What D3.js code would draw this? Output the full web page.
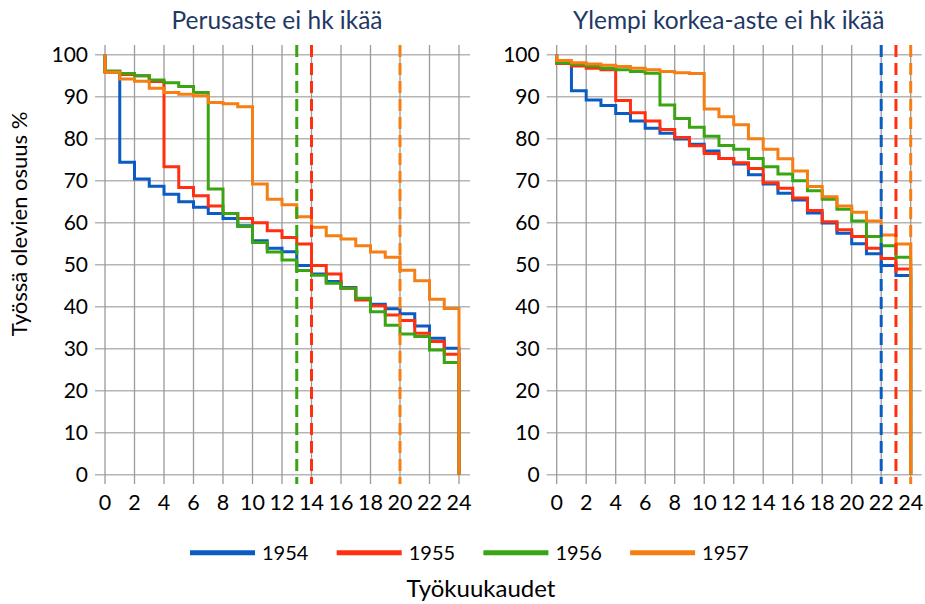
<!DOCTYPE html>
<html>
<head>
<meta charset="utf-8">
<script src="https://cdn.jsdelivr.net/npm/d3@7"></script>
<style>
  body { margin: 0; background: #fff; }
  svg { font-family: Lato, "Open Sans", sans-serif; }
</style>
</head>
<body>
<div id="chart"></div>
<script>
// data (share still in work, %), one value per month 0..23
const years = ['1954', '1955', '1956', '1957']
const colors = ['#0A5BC4', '#FF2F0F', '#3AA512', '#F57F14']
const xTicks = [0, 2, 4, 6, 8, 10, 12, 14, 16, 18, 20, 22, 24]
const yTicks = [0, 10, 20, 30, 40, 50, 60, 70, 80, 90, 100]

const perus1954 = [96.0, 74.4, 70.4, 68.7, 66.8, 65.0, 63.7, 62.2, 61.0, 59.3, 55.7, 53.9, 53.1, 49.8, 47.8, 46.0, 44.6, 41.8, 40.6, 39.5, 38.3, 35.4, 32.5, 30.1]
const perus1955 = [95.8, 95.3, 95.0, 93.6, 73.3, 68.4, 66.4, 64.0, 62.2, 61.0, 60.0, 58.1, 56.5, 54.9, 49.8, 47.8, 44.4, 41.6, 40.2, 38.0, 36.7, 33.7, 31.7, 28.7]
const perus1956 = [96.1, 95.5, 95.0, 94.0, 93.3, 92.4, 91.0, 68.0, 62.2, 59.1, 55.3, 53.0, 51.1, 48.6, 47.5, 45.6, 44.4, 42.0, 38.8, 35.6, 33.5, 32.9, 29.7, 26.7]
const perus1957 = [95.8, 94.2, 93.7, 92.0, 91.0, 90.6, 90.2, 88.6, 88.3, 87.6, 69.2, 65.6, 64.3, 61.4, 58.9, 56.9, 56.1, 54.5, 53.0, 51.8, 48.7, 46.2, 41.8, 39.6]

const ylempi1954 = [98.1, 91.4, 89.2, 87.9, 86.0, 84.2, 82.5, 81.3, 79.9, 78.7, 77.1, 75.3, 74.0, 71.4, 69.2, 67.0, 65.4, 62.3, 59.9, 57.5, 55.0, 52.6, 49.8, 47.4]
const ylempi1955 = [97.9, 97.3, 96.8, 96.4, 89.1, 86.2, 84.2, 82.2, 80.3, 78.3, 76.5, 75.3, 74.3, 72.9, 69.5, 68.2, 65.9, 62.9, 60.2, 58.3, 56.7, 53.9, 51.5, 49.0]
const ylempi1956 = [98.1, 97.7, 97.3, 96.8, 96.4, 96.0, 95.6, 88.0, 84.8, 82.7, 80.6, 78.4, 77.5, 75.3, 73.3, 71.6, 70.0, 67.6, 65.6, 63.2, 60.4, 56.7, 54.5, 51.8]
const ylempi1957 = [98.6, 98.1, 97.8, 97.5, 97.2, 96.8, 96.4, 96.0, 95.7, 95.5, 87.1, 85.2, 83.3, 80.0, 77.5, 75.2, 72.3, 68.6, 66.2, 64.0, 62.5, 60.4, 57.1, 54.9]

// month where each cohort's observation window ends (dashed lines)
const perusCutoff = [null, 14, 13, 20]
const ylempiCutoff = [22, 23, null, 24]

const panels = [
    { title: 'Perusaste ei hk ikää', series: [perus1954, perus1955, perus1956, perus1957], cutoff: perusCutoff, left: 105 },
    { title: 'Ylempi korkea-aste ei hk ikää', series: [ylempi1954, ylempi1955, ylempi1956, ylempi1957], cutoff: ylempiCutoff, left: 556.7 }
]

const width = 925
const height = 604

const svg = d3.select('#chart')
    .append('svg')
    .attr('width', width)
    .attr('height', height)

const yScale = d3.scaleLinear()
    .domain([0, 100])
    .range([474.7, 54.7])

const plotTop = 45
const plotBottom = 484

panels.forEach(p => {
    const xScale = d3.scaleLinear()
        .domain([0, 24])
        .range([p.left, p.left + 354])

    const g = svg.append('g')

    // horizontal grid
    g.append('g')
        .selectAll('line')
        .data(yTicks)
        .join('line')
        .attr('x1', xScale(0) - 10)
        .attr('x2', xScale(24) + 11)
        .attr('y1', d => yScale(d))
        .attr('y2', d => yScale(d))
        .attr('stroke', '#b5b5b5')
        .attr('stroke-width', 1.5)

    // vertical grid
    g.append('g')
        .selectAll('line')
        .data(xTicks)
        .join('line')
        .attr('x1', d => xScale(d))
        .attr('x2', d => xScale(d))
        .attr('y1', plotTop)
        .attr('y2', plotBottom)
        .attr('stroke', '#9a9a9a')
        .attr('stroke-width', 1.3)

    // y labels
    g.append('g')
        .selectAll('text')
        .data(yTicks)
        .join('text')
        .attr('x', xScale(0) - 17)
        .attr('y', d => yScale(d))
        .attr('dy', '0.36em')
        .attr('text-anchor', 'end')
        .style('font-size', '21px')
        .attr('fill', '#000')
        .text(d => d)

    // x labels
    g.append('g')
        .selectAll('text')
        .data(xTicks)
        .join('text')
        .attr('x', d => xScale(d))
        .attr('y', 510)
        .attr('text-anchor', 'middle')
        .style('font-size', '21.5px')
        .attr('fill', '#000')
        .text(d => d)

    // step lines
    const line = d3.line()
        .x(d => xScale(d[0]))
        .y(d => yScale(d[1]))
        .curve(d3.curveStepAfter)

    p.series.forEach((vals, i) => {
        const pts = [[0, 100]].concat(vals.map((v, m) => [m, v]), [[24, 0]])
        g.append('path')
            .datum(pts)
            .attr('d', line)
            .attr('fill', 'none')
            .attr('stroke', colors[i])
            .attr('stroke-width', 3)
    })

    // dashed cut-off lines
    p.cutoff.forEach((m, i) => {
        if (m === null) return
        g.append('line')
            .attr('x1', xScale(m))
            .attr('x2', xScale(m))
            .attr('y1', plotTop)
            .attr('y2', plotBottom)
            .attr('stroke', colors[i])
            .attr('stroke-width', 3)
            .attr('stroke-dasharray', '12,6')
    })

    g.append('text')
        .attr('x', (xScale(0) + xScale(24)) / 2 - 5)
        .attr('y', 29)
        .attr('text-anchor', 'middle')
        .style('font-size', '24.5px')
        .attr('fill', '#1F3864')
        .text(p.title)
})

// axis titles
svg.append('text')
    .attr('transform', 'translate(27, 224) rotate(-90)')
    .attr('text-anchor', 'middle')
    .style('font-size', '22px')
    .attr('fill', '#000')
    .text('Työssä olevien osuus %')

svg.append('text')
    .attr('x', 481)
    .attr('y', 597)
    .attr('text-anchor', 'middle')
    .style('font-size', '24px')
    .attr('fill', '#000')
    .text('Työkuukaudet')

// legend
const legend = svg.append('g')
    .selectAll('g')
    .data(years)
    .join('g')
    .attr('transform', (d, i) => `translate(${190 + i * 146.7}, 552.7)`)

legend.append('line')
    .attr('x1', 0)
    .attr('x2', 65)
    .attr('stroke', (d, i) => colors[i])
    .attr('stroke-width', 5)

legend.append('text')
    .attr('x', 72)
    .attr('dy', '0.36em')
    .style('font-size', '20px')
    .attr('fill', '#000')
    .text(d => d)
</script>
</body>
</html>
